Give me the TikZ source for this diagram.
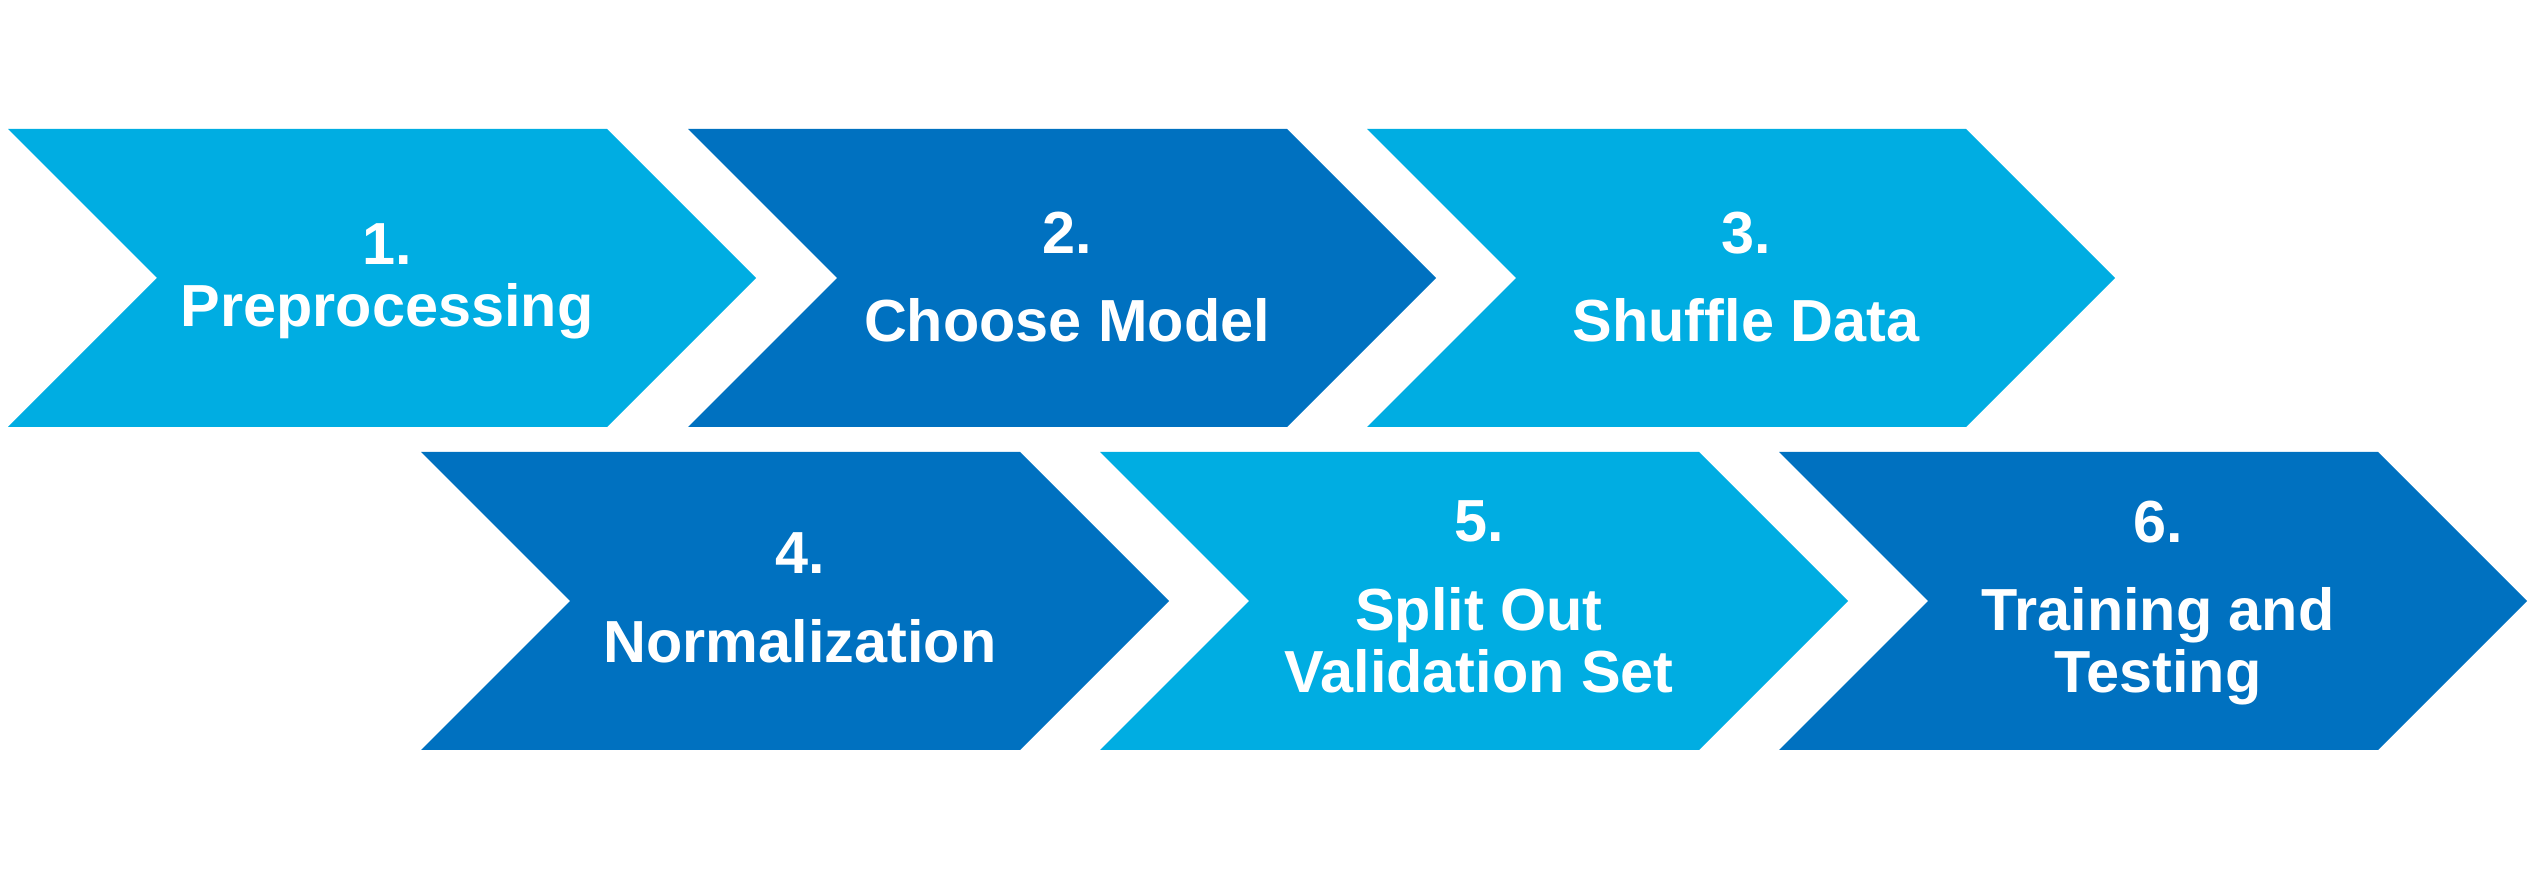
\documentclass[tikz,border=0pt]{standalone}
\usepackage{fontspec}
\setmainfont{Liberation Sans}
\definecolor{lightblue}{HTML}{00ADE2}
\definecolor{darkblue}{HTML}{0071C0}
\begin{document}
\begin{tikzpicture}[x=0.1mm, y=-0.1mm,
    every node/.style = {text=white, align=center,
    font=\fontsize{16.9}{17.6}\selectfont\bfseries}]
  \useasboundingbox (0,0) rectangle (2531,880);
  % the six chevrons: left x, top y, colour
  \foreach \x/\y/\c in {8/129/lightblue, 688/129/darkblue, 1367/129/lightblue,
                        421/452/darkblue, 1100/452/lightblue, 1779/452/darkblue}
    \fill[fill=\c] (\x,\y) -- ++(599,0) -- ++(149,149) -- ++(-149,149)
      -- ++(-599,0) -- ++(149,-149) -- cycle;
  % step labels
  \node (prep)  at (387,281)  {1.\\Preprocessing};
  \node (model) at (1067,277) {2.\\[7.6pt]Choose Model};
  \node (shuf)  at (1746,277) {3.\\[7.6pt]Shuffle Data};
  \node (norm)  at (800,598)  {4.\\[7.6pt]Normalization};
  \node (split) at (1479,597) {5.\\[7.6pt]Split Out\\Validation Set};
  \node (train) at (2158,603) {6.\\[7.6pt]Training and\\Testing};
\end{tikzpicture}
\end{document}
